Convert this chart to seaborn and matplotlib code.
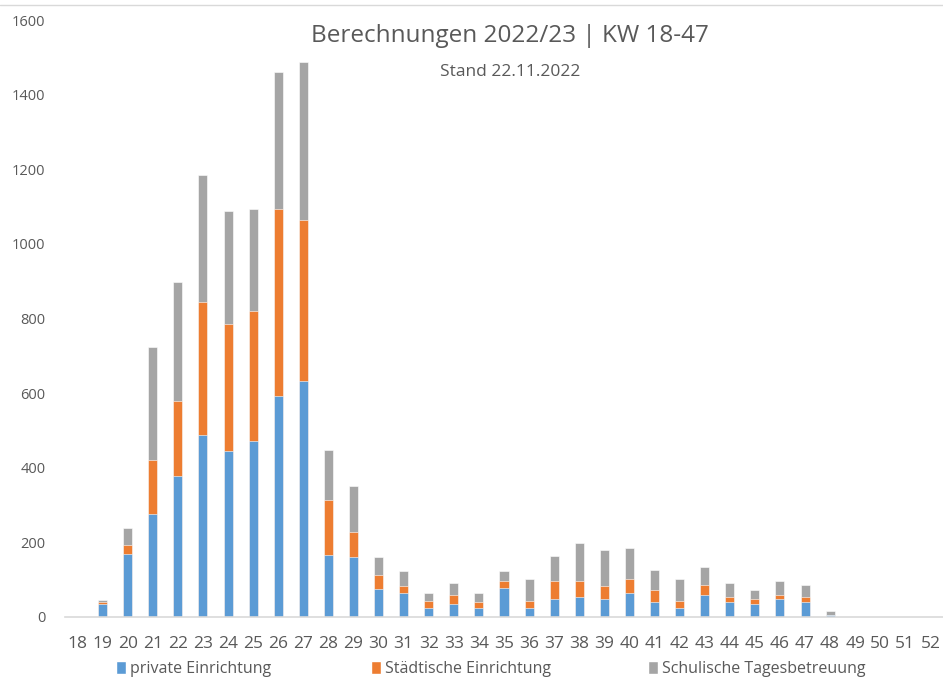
import numpy as np
import pandas as pd
import matplotlib
matplotlib.use('Agg')
import matplotlib.pyplot as plt
import seaborn as sns
from matplotlib.patches import Patch
from matplotlib import font_manager

# Kalenderwochen 18-52
weeks = [str(w) for w in range(18, 53)]

# Werte je Kategorie
private = [0, 35, 170, 276, 377, 488, 444, 473, 593, 632, 165, 160, 74, 63, 25, 34, 25, 78,
           25, 48, 53, 48, 63, 39, 25, 58, 39, 34, 48, 39, 6, 0, 0, 0, 0]
staedtisch = [0, 5, 24, 144, 202, 355, 341, 346, 500, 433, 149, 68, 38, 19, 19, 24, 14, 19,
              19, 49, 44, 34, 38, 34, 19, 29, 15, 14, 10, 15, 0, 0, 0, 0, 0]
schulisch = [0, 5, 44, 303, 318, 342, 303, 274, 367, 423, 134, 124, 48, 40, 19, 34, 24, 25,
             57, 67, 101, 97, 83, 53, 57, 48, 38, 25, 39, 33, 9, 0, 0, 0, 0]

labels = ['private Einrichtung', 'Städtische Einrichtung', 'Schulische Tagesbetreuung']
colors = ['#5B9BD5', '#ED7D31', '#A5A5A5']

df = pd.DataFrame({'KW': weeks, 'private': private, 'staedtisch': staedtisch, 'schulisch': schulisch})
df['stack1'] = df['private']
df['stack2'] = df['private'] + df['staedtisch']
df['stack3'] = df['stack2'] + df['schulisch']

sns.set_theme(style='white')
names = [f.name for f in font_manager.fontManager.ttflist]
fam = 'Liberation Sans Narrow' if 'Liberation Sans Narrow' in names else 'Open Sans'
plt.rcParams['font.family'] = [fam, 'DejaVu Sans']

fig = plt.figure(figsize=(9.43, 6.89), dpi=100)
ax = fig.add_axes([65 / 943, 1 - 617 / 689, 1 - 65 / 943, (617 - 20) / 689])

# gestapelte Balken: Summe zuerst, darüber die Teilsummen
for col, c in zip(['stack3', 'stack2', 'stack1'], colors[::-1]):
    sns.barplot(data=df, x='KW', y=col, color=c, width=0.36, ax=ax,
                saturation=1, edgecolor='white', linewidth=0.4)

ax.set_ylim(0, 1600)
ax.set_xlim(-0.5, 34.5)
ax.set_yticks(range(0, 1601, 200))
ax.set_xlabel('')
ax.set_ylabel('')
for s in ['top', 'right', 'left']:
    ax.spines[s].set_visible(False)
ax.spines['bottom'].set_color('#D9D9D9')
ax.spines['bottom'].set_linewidth(1.2)
ax.tick_params(axis='y', length=0, pad=14, labelsize=10.5, labelcolor='#595959')
ax.tick_params(axis='x', length=0, pad=14, labelsize=12.5, labelcolor='#595959')

fig.text(510 / 943, 1 - 36 / 689, 'Berechnungen 2022/23 | KW 18-47', ha='center', va='center',
         fontsize=17.5, color='#595959')
fig.text(510 / 943, 1 - 72 / 689, 'Stand 22.11.2022', ha='center', va='center',
         fontsize=12.5, color='#595959')

# Legende: drei Einträge an festen Positionen
for lab, c, x0 in zip(labels, colors, [116, 371, 648]):
    fig.legend([Patch(facecolor=c)], [lab], loc='center left',
               bbox_to_anchor=(x0 / 943, 1 - 669 / 689), frameon=False, fontsize=11.5,
               labelcolor='#595959', handlelength=0.6, handleheight=0.9, handletextpad=0.3,
               borderpad=0, borderaxespad=0)

# dünne Linie oben (Rahmen des Screenshots)
fig.add_artist(plt.Line2D([0, 1], [1 - 5 / 689, 1 - 5 / 689], color='#D9D9D9', lw=1))

fig.savefig('out.png', dpi=100)
